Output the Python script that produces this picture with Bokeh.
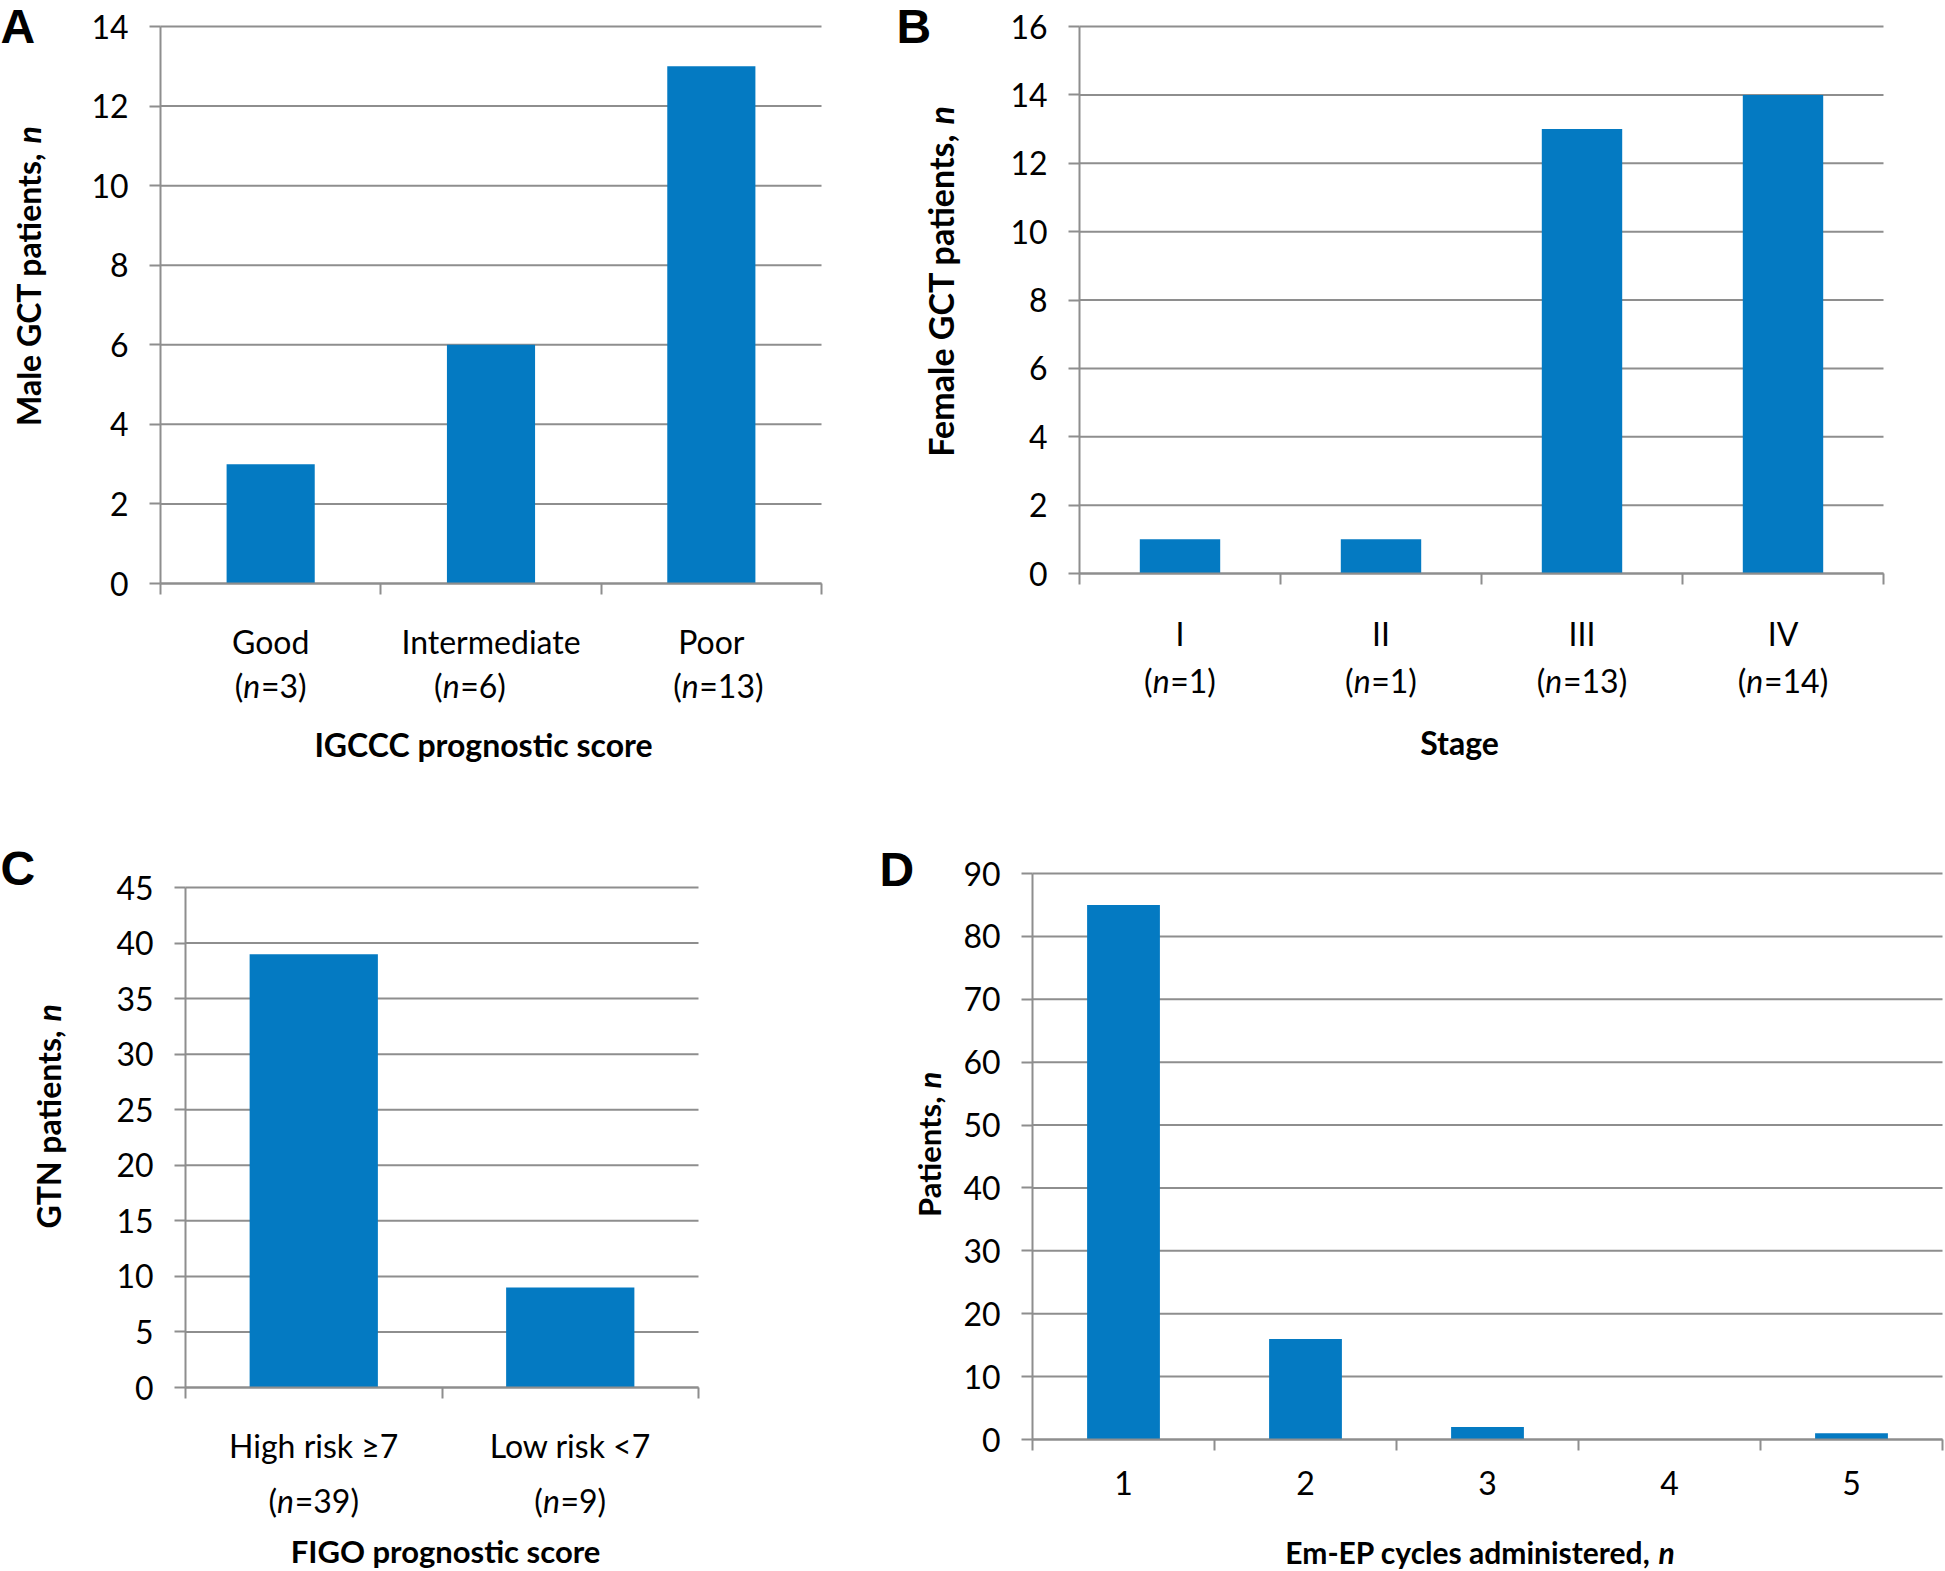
import math
from bokeh.plotting import figure
from bokeh.models import Range1d, FixedTicker, Label
from bokeh.layouts import row, column
from bokeh.embed import file_html
from bokeh.resources import INLINE

# ---------------- data ----------------
a_categories = ["Good", "Intermediate", "Poor"]
a_counts = [3, 6, 13]
a_yticks = [0, 2, 4, 6, 8, 10, 12, 14]

b_categories = ["I", "II", "III", "IV"]
b_counts = [1, 1, 13, 14]
b_yticks = [0, 2, 4, 6, 8, 10, 12, 14, 16]

c_categories = ["High risk \u22657", "Low risk <7"]
c_counts = [39, 9]
c_yticks = [0, 5, 10, 15, 20, 25, 30, 35, 40, 45]

d_categories = ["1", "2", "3", "4", "5"]
d_counts = [85, 16, 2, 0, 1]
d_yticks = [0, 10, 20, 30, 40, 50, 60, 70, 80, 90]

# ---------------- style ----------------
BAR = "#047AC2"
GRID = "#8E8E8E"
FONT = "Lato"
TICK_FS = 32
TITLE_FS = 31


class Panel:
    """One chart; the canvas box and the plot-area geometry are in page pixels."""

    def __init__(self, box, frame, yticks, n):
        fx, fy, fw, fh = box
        self.left, self.right, self.top, self.bottom = frame
        self.xmax = n
        self.ymax = yticks[-1]
        p = figure(width=fw, height=fh,
                   x_range=Range1d(self.dx(fx), self.dx(fx + fw)),
                   y_range=Range1d(self.dy(fy + fh), self.dy(fy)),
                   output_backend="svg", toolbar_location=None, min_border=0)
        p.title.visible = False
        p.outline_line_color = None
        p.background_fill_color = "white"
        p.border_fill_color = "white"
        p.xgrid.visible = False
        p.ygrid.visible = False
        # horizontal gridlines at the y ticks, spanning the category axis
        p.segment(x0=[0] * len(yticks), y0=yticks, x1=[n] * len(yticks), y1=yticks,
                  line_color=GRID, line_width=2)
        # x axis
        xa = p.xaxis[0]
        xa.fixed_location = 0
        xa.bounds = (0, n)
        xa.ticker = FixedTicker(ticks=list(range(n + 1)))
        xa.major_label_overrides = {i: "" for i in range(n + 1)}
        xa.major_label_text_font_size = "0px"
        xa.major_tick_out = 11
        xa.major_tick_in = 0
        xa.minor_tick_out = 0
        xa.minor_tick_in = 0
        xa.axis_line_color = GRID
        xa.axis_line_width = 2
        xa.major_tick_line_color = GRID
        xa.major_tick_line_width = 2
        # y axis
        ya = p.yaxis[0]
        ya.fixed_location = 0
        ya.bounds = (0, self.ymax)
        ya.ticker = FixedTicker(ticks=yticks)
        ya.major_tick_out = 11
        ya.major_tick_in = 0
        ya.minor_tick_out = 0
        ya.minor_tick_in = 0
        ya.axis_line_color = GRID
        ya.axis_line_width = 2
        ya.major_tick_line_color = GRID
        ya.major_tick_line_width = 2
        ya.major_label_text_font = FONT
        ya.major_label_text_font_size = f"{TICK_FS}px"
        ya.major_label_text_color = "black"
        ya.major_label_standoff = 21
        self.p = p

    def dx(self, rx):
        return (rx - self.left) / (self.right - self.left) * self.xmax

    def dy(self, ry):
        return (self.bottom - ry) / (self.bottom - self.top) * self.ymax

    def label(self, x, y, text, **kw):
        opts = dict(text_font=FONT, text_font_size=f"{TICK_FS}px", text_color="black",
                    text_align="center", text_baseline="middle")
        opts.update(kw)
        self.p.add_layout(Label(x=x, y=y, text=text, **opts))

    def bars(self, counts, width):
        xs = [i + 0.5 for i in range(len(counts))]
        self.p.vbar(x=xs, top=counts, width=width, fill_color=BAR, line_color=None)

    def cat_labels(self, cats, ry):
        for i, c in enumerate(cats):
            self.label(i + 0.5, self.dy(ry), c)

    def n_labels(self, counts, ry, shifts=None):
        fs = TICK_FS
        for i, cnt in enumerate(counts):
            shift = shifts[i] if shifts else 0
            rest = "=" + str(cnt) + ")"
            w_open = 0.30 * fs
            w_n = 0.55 * fs
            w_rest = (0.58 * (1 + len(str(cnt))) + 0.30) * fs
            total = w_open + w_n + w_rest
            lx = -total / 2 + shift
            y = self.dy(ry)
            self.label(i + 0.5, y, "(", text_align="right", x_offset=lx + w_open)
            self.label(i + 0.5, y, "n", text_align="left", x_offset=lx + w_open,
                       text_font_style="italic")
            self.label(i + 0.5, y, rest, text_align="left", x_offset=lx + w_open + w_n)

    def xtitle(self, text, rx, ry, fs=TITLE_FS):
        self.label(self.dx(rx), self.dy(ry), text, text_font_style="bold",
                   text_font_size=f"{fs}px")

    def xtitle_n(self, text, rx_end_main, rx_n, ry, fs=TITLE_FS):
        self.label(self.dx(rx_end_main), self.dy(ry), text, text_font_style="bold",
                   text_font_size=f"{fs}px", text_align="right")
        self.label(self.dx(rx_n), self.dy(ry), "n", text_font_style="bold italic",
                   text_font_size=f"{fs}px", text_align="left")

    def ytitle_n(self, text, rx, ry_main_end, ry_n, fs=TITLE_FS):
        self.label(self.dx(rx), self.dy(ry_main_end), text, text_font_style="bold",
                   text_font_size=f"{fs}px", text_align="right", angle=math.pi / 2)
        self.label(self.dx(rx), self.dy(ry_n), "n", text_font_style="bold italic",
                   text_font_size=f"{fs}px", text_align="left", angle=math.pi / 2)

    def letter(self, text, rx, ry_mid):
        self.p.add_layout(Label(x=self.dx(rx), y=self.dy(ry_mid), text=text,
                                text_font="Liberation Sans", text_font_style="bold",
                                text_font_size="48px", text_color="black",
                                text_align="left", text_baseline="middle"))


# ---------------- panel A ----------------
A = Panel((0, 0, 880, 800), (160, 821, 26, 583), a_yticks, len(a_categories))
A.bars(a_counts, 0.4)
A.cat_labels(a_categories, 641)
A.n_labels(a_counts, 685, shifts=[0, -21, 7])
A.xtitle("IGCCC prognostic score", 483, 744, fs=32)
A.ytitle_n("Male GCT patients,", 28, 152, 143, fs=32)
A.letter("A", 0, 26)

# ---------------- panel B ----------------
B = Panel((880, 0, 1064, 800), (1079, 1883, 26, 573), b_yticks, len(b_categories))
B.bars(b_counts, 0.4)
B.cat_labels(b_categories, 633)
B.n_labels(b_counts, 680)
B.xtitle("Stage", 1459, 742, fs=32)
B.ytitle_n("Female GCT patients,", 940, 133, 124, fs=34)
B.letter("B", 896, 26)

# ---------------- panel C ----------------
C = Panel((0, 800, 860, 770), (185, 698, 887, 1387), c_yticks, len(c_categories))
C.bars(c_counts, 0.5)
C.cat_labels(c_categories, 1445)
C.n_labels(c_counts, 1500)
C.xtitle("FIGO prognostic score", 445, 1550)
C.ytitle_n("GTN patients,", 48, 1030, 1021, fs=32)
C.letter("C", 0, 868)

# ---------------- panel D ----------------
D = Panel((860, 800, 1084, 770), (1032, 1942, 873, 1439), d_yticks, len(d_categories))
D.bars(d_counts, 0.4)
D.cat_labels(d_categories, 1482)
D.xtitle_n("Em-EP cycles administered,", 1650, 1658, 1551, fs=30)
D.ytitle_n("Patients,", 928, 1096, 1088)
D.letter("D", 879, 869)

layout = column(row(A.p, B.p), row(C.p, D.p))

open("out.html", "w").write(file_html(layout, INLINE))
